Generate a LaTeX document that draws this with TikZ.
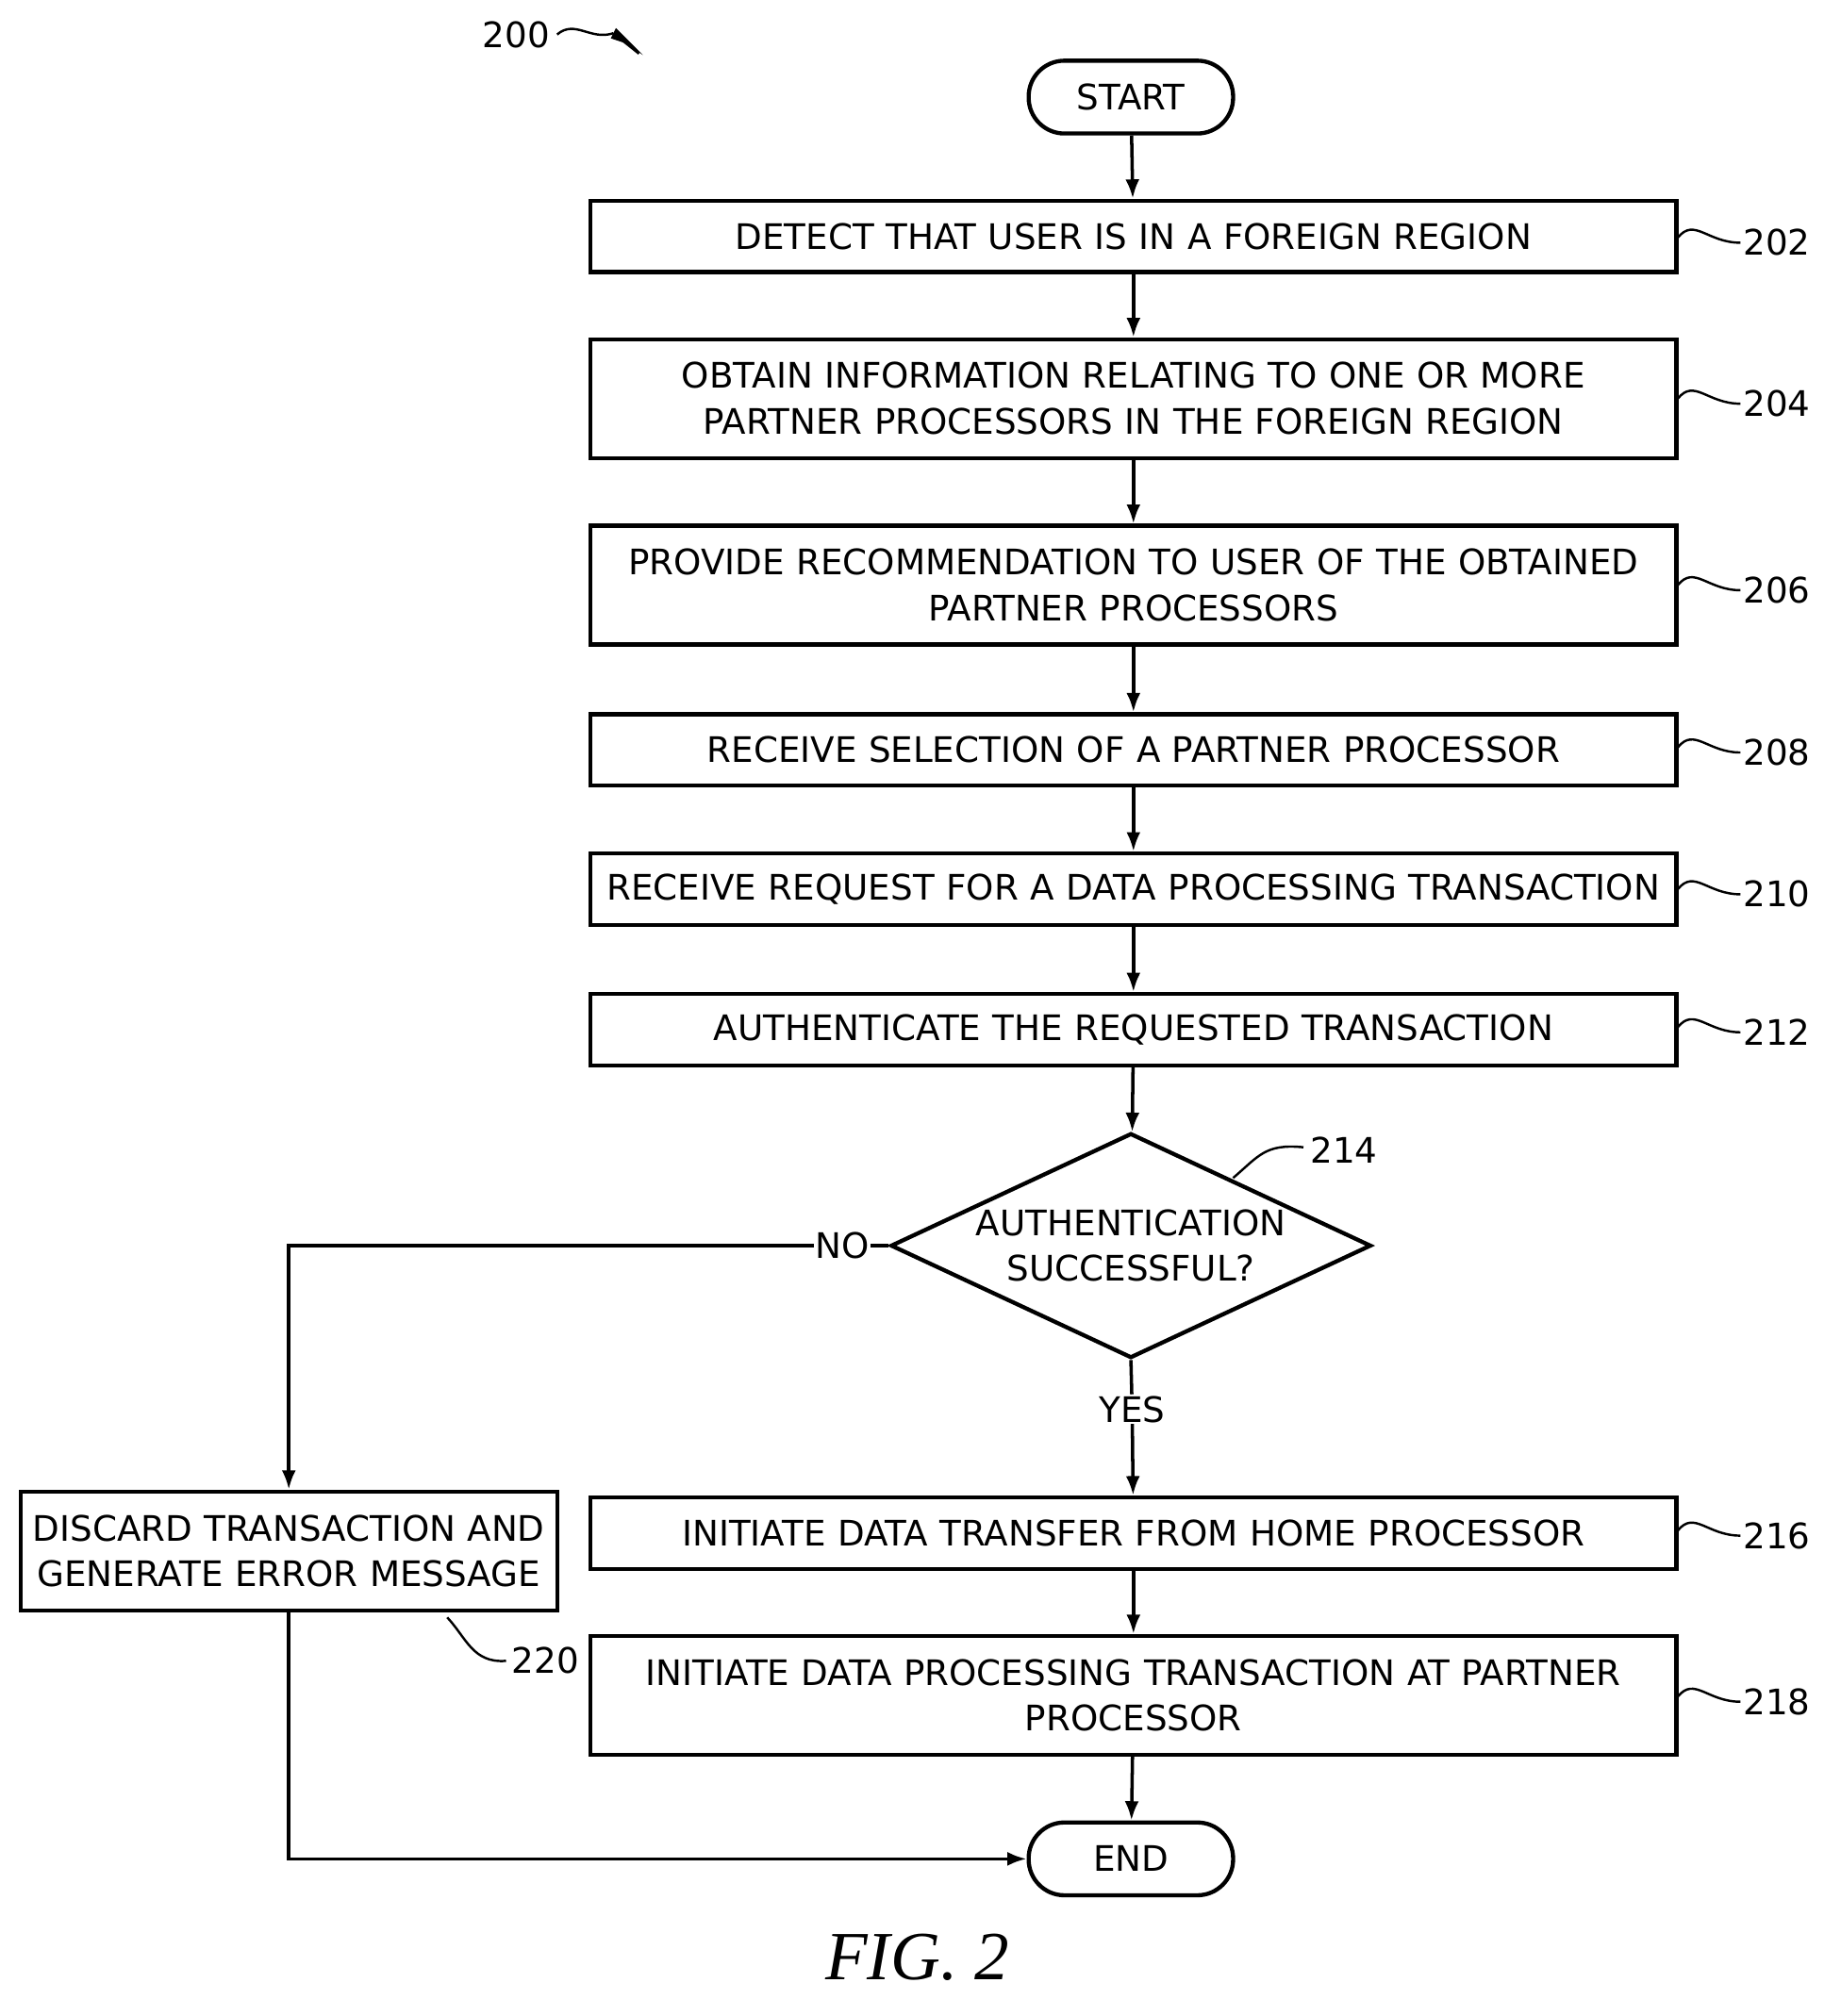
\documentclass[tikz,border=0pt]{standalone}
\usepackage{fontspec}
\setmainfont{DejaVu Sans}
\newfontfamily\figfont{Liberation Serif}
\usetikzlibrary{shapes.geometric,arrows.meta}
\begin{document}
\begin{tikzpicture}[x=1pt,y=-1pt,
  box/.style={draw,line width=3.2pt,minimum height=56pt,text width=850pt,align=center,font=\fontsize{27.5}{36}\selectfont,inner sep=0pt},
  term/.style={draw,line width=3.2pt,rounded corners=28pt,minimum width=160pt,minimum height=57pt,font=\fontsize{27.5}{30}\selectfont},
  arr/.style={line width=2.6pt,-{Latex[length=15pt,width=11pt]}},
  lbl/.style={font=\fontsize{27.5}{30}\selectfont},
  sq/.style={line width=1.8pt}]
\useasboundingbox (0,0) rectangle (1440,1578);
\node[term] (start) at (885,76) {START};
\node[box] (b202) at (887,185) {DETECT THAT USER IS IN A FOREIGN REGION};
\node[box,minimum height=93pt] (b204) at (887,312) {OBTAIN INFORMATION RELATING TO ONE OR MORE\\PARTNER PROCESSORS IN THE FOREIGN REGION};
\node[box,minimum height=93pt] (b206) at (887,458) {PROVIDE RECOMMENDATION TO USER OF THE OBTAINED\\PARTNER PROCESSORS};
\node[box] (b208) at (887,587) {RECEIVE SELECTION OF A PARTNER PROCESSOR};
\node[box] (b210) at (887,696) {RECEIVE REQUEST FOR A DATA PROCESSING TRANSACTION};
\node[box] (b212) at (887,806) {AUTHENTICATE THE REQUESTED TRANSACTION};
\node[draw,line width=3.2pt,diamond,aspect=2.14,minimum width=376pt,minimum height=176pt,inner sep=0pt,align=center,font=\fontsize{27.5}{36}\selectfont] (d214) at (885,975) {AUTHENTICATION\\SUCCESSFUL?};
\node[box] (b216) at (887,1200) {INITIATE DATA TRANSFER FROM HOME PROCESSOR};
\node[box,minimum height=93pt] (b218) at (887,1327) {INITIATE DATA PROCESSING TRANSACTION AT PARTNER\\PROCESSOR};
\node[box,minimum height=93pt,text width=420pt] (b220) at (226,1214) {DISCARD TRANSACTION AND\\GENERATE ERROR MESSAGE};
\node[term] (end) at (885,1455) {END};
\draw[arr] (start) -- (b202);
\draw[arr] (b202) -- (b204);
\draw[arr] (b204) -- (b206);
\draw[arr] (b206) -- (b208);
\draw[arr] (b208) -- (b210);
\draw[arr] (b210) -- (b212);
\draw[arr] (b212) -- (d214);
\node[lbl,fill=white,inner sep=1pt] (yes) at (886,1103) {YES};
\draw[line width=2.6pt] (d214.south) -- (yes);
\draw[arr] (yes) -- (b216);
\draw[arr] (b216) -- (b218);
\draw[arr] (b218) -- (end);
\node[lbl,inner sep=1pt] (no) at (659,975) {NO};
\draw[line width=2.6pt] (d214.west) -- (no);
\coordinate (c1) at (226,975);
\draw[arr] (no.west) -- (c1) -- (b220.north);
\coordinate (c2) at (226,1455);
\draw[arr] (b220.south) -- (c2) -- (end.west);
% reference labels
\foreach \y/\t in {188/202,314/204,460/206,587/208,698/210,806/212,1200/216,1330/218}{
  \draw[sq] (1313,\y-2) .. controls (1326,\y-18) and (1336,\y+2) .. (1362,\y+2);
  \node[lbl,anchor=west,inner sep=1pt] at (1363,\y+2) {\t};
}
\draw[sq] (965,922) .. controls (985,905) and (990,895) .. (1020,898);
\node[lbl,anchor=west] at (1022,900) {214};
\draw[sq] (350,1266) .. controls (365,1282) and (370,1302) .. (396,1300);
\node[lbl,anchor=west] at (397,1300) {220};
\node[lbl] at (404,27) {200};
\draw[sq] (436,27) .. controls (450,15) and (462,32) .. (480,26);
\draw[sq] (480,26) -- (500,42);
\fill (482,22) -- (503,43) -- (490,34) -- (478,30) -- cycle;
\node[font=\figfont\itshape\fontsize{54}{60}\selectfont] at (718,1532) {FIG. 2};
\end{tikzpicture}
\end{document}
